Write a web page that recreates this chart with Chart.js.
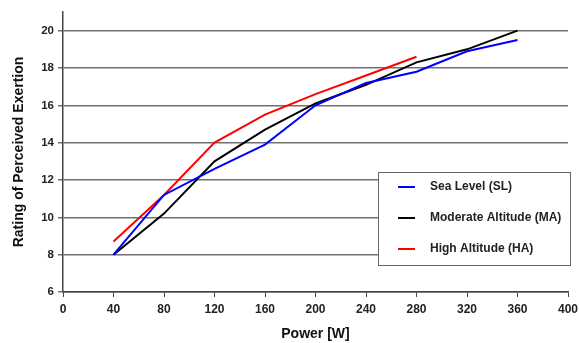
<!DOCTYPE html>
<html>
<head>
<meta charset="utf-8">
<script src="https://cdn.jsdelivr.net/npm/chart.js@4.4.0/dist/chart.umd.min.js"></script>
<style>
  html, body { margin: 0; padding: 0; background: #fff; }
  #wrap { width: 579px; height: 343px; }
</style>
</head>
<body>
<div id="wrap"><canvas id="rpeChart" width="579" height="343"></canvas></div>
<script>
// Werte
const powerLevels = [40, 80, 120, 160, 200, 240, 280, 320, 360];
const seaLevel = [8.0, 11.2, 12.6, 13.9, 16.0, 17.2, 17.8, 18.9, 19.5];
const moderateAltitude = [8.0, 10.2, 13.0, 14.7, 16.1, 17.1, 18.3, 19.0, 20.0];
const highAltitude = [8.7, 11.2, 14.0, 15.5, 16.6, 17.6, 18.6];
const seriesNames = ['Sea Level (SL)', 'Moderate Altitude (MA)', 'High Altitude (HA)'];

const toPoints = vals => vals.map((v, i) => ({ x: powerLevels[i], y: v }));

const FONT = 'Liberation Sans, Arial, Helvetica, sans-serif';

// Legende als Kasten im Diagramm zeichnen
const boxLegend = {
    id: 'boxLegend',
    afterDraw(chart) {
        const ctx = chart.ctx;
        const x0 = 378, y0 = 172, w = 192, h = 93;
        ctx.save();
        ctx.fillStyle = '#fff';
        ctx.fillRect(x0, y0, w, h);
        ctx.strokeStyle = '#666';
        ctx.lineWidth = 1;
        ctx.strokeRect(x0 + 0.5, y0 + 0.5, w, h);
        ctx.font = 'bold 12px ' + FONT;
        ctx.textBaseline = 'middle';
        chart.data.datasets.forEach((ds, i) => {
            const y = y0 + 15 + i * 31;
            ctx.strokeStyle = ds.borderColor;
            ctx.lineWidth = 2;
            ctx.beginPath();
            ctx.moveTo(398, y);
            ctx.lineTo(415, y);
            ctx.stroke();
            ctx.fillStyle = '#222';
            ctx.fillText(ds.label, 430, y);
        });
        ctx.restore();
    }
};

new Chart(document.getElementById('rpeChart'), {
    type: 'line',
    data: {
        datasets: [
            { label: seriesNames[0], data: toPoints(seaLevel), borderColor: '#0000ff' },
            { label: seriesNames[1], data: toPoints(moderateAltitude), borderColor: '#000000' },
            { label: seriesNames[2], data: toPoints(highAltitude), borderColor: '#ff0000' }
        ]
    },
    options: {
        responsive: false,
        animation: false,
        layout: { padding: { left: 0, right: 11, top: 12, bottom: 0 } },
        elements: {
            point: { radius: 0 },
            line: { borderWidth: 2, tension: 0 }
        },
        plugins: { legend: { display: false }, tooltip: { enabled: false } },
        scales: {
            x: {
                type: 'linear',
                min: 0, max: 400,
                ticks: { stepSize: 40, color: '#222', font: { family: FONT, size: 12, weight: 'bold' }, padding: 5 },
                grid: { drawOnChartArea: false, drawTicks: true, tickLength: 5, color: '#444' },
                border: { color: '#444', width: 1.5 },
                title: { display: true, text: 'Power [W]', color: '#111', font: { family: FONT, size: 14, weight: 'bold' }, padding: { top: 5, bottom: 0 } },
                afterFit: s => { s.height = 51; s.paddingRight = 0; s.paddingLeft = 0; }
            },
            y: {
                min: 6, max: 21,
                afterBuildTicks: s => { s.ticks = s.ticks.filter(t => t.value % 2 === 0); },
                ticks: { stepSize: 2, color: '#222', font: { family: FONT, size: 11.5, weight: 'bold' }, padding: 4 },
                grid: { color: '#707070', lineWidth: 1.5, tickLength: 5 },
                border: { color: '#444', width: 1.5 },
                title: { display: true, text: 'Rating of Perceived Exertion', color: '#111', font: { family: FONT, size: 14, weight: 'bold' }, padding: { top: 11, bottom: 0 } },
                afterFit: s => { s.width = 63; s.paddingTop = 0; s.paddingBottom = 0; }
            }
        }
    },
    plugins: [boxLegend]
});
</script>
</body>
</html>
